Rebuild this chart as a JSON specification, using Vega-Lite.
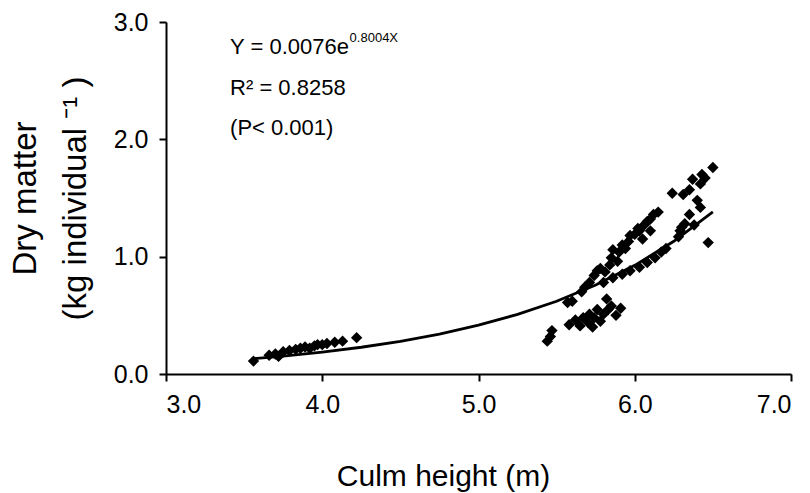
{
  "$schema": "https://vega.github.io/schema/vega-lite/v6.json",
  "autosize": {"type": "none"},
  "width": 625,
  "height": 352,
  "padding": {"left": 166, "top": 22, "right": 19, "bottom": 119},
  "background": "white",
  "config": {
    "view": {"stroke": null},
    "font": "Liberation Sans",
    "axis": {
      "grid": false,
      "domainColor": "black",
      "domainWidth": 2,
      "tickColor": "black",
      "tickWidth": 2,
      "tickSize": 7,
      "labelColor": "black",
      "labelFont": "Liberation Sans",
      "labelFontSize": 25,
      "titleColor": "black",
      "titleFont": "Liberation Sans",
      "titleFontWeight": "normal"
    }
  },
  "datasets": {
    "points": [
      {"h": 3.56, "dm": 0.11}, {"h": 3.66, "dm": 0.16}, {"h": 3.70, "dm": 0.17}, {"h": 3.72, "dm": 0.15},
      {"h": 3.75, "dm": 0.19}, {"h": 3.79, "dm": 0.20}, {"h": 3.83, "dm": 0.21}, {"h": 3.86, "dm": 0.22},
      {"h": 3.89, "dm": 0.23}, {"h": 3.92, "dm": 0.22}, {"h": 3.95, "dm": 0.24}, {"h": 3.97, "dm": 0.25},
      {"h": 4.00, "dm": 0.25}, {"h": 4.03, "dm": 0.26}, {"h": 4.08, "dm": 0.27}, {"h": 4.13, "dm": 0.28},
      {"h": 4.22, "dm": 0.31},
      {"h": 5.44, "dm": 0.28}, {"h": 5.46, "dm": 0.32}, {"h": 5.47, "dm": 0.37}, {"h": 5.57, "dm": 0.61},
      {"h": 5.58, "dm": 0.42}, {"h": 5.62, "dm": 0.46}, {"h": 5.65, "dm": 0.41}, {"h": 5.67, "dm": 0.48},
      {"h": 5.70, "dm": 0.44}, {"h": 5.71, "dm": 0.51}, {"h": 5.73, "dm": 0.40}, {"h": 5.74, "dm": 0.48},
      {"h": 5.76, "dm": 0.55}, {"h": 5.78, "dm": 0.45}, {"h": 5.80, "dm": 0.51}, {"h": 5.82, "dm": 0.64},
      {"h": 5.83, "dm": 0.55}, {"h": 5.85, "dm": 0.58}, {"h": 5.88, "dm": 0.50}, {"h": 5.91, "dm": 0.56},
      {"h": 5.60, "dm": 0.62},
      {"h": 5.66, "dm": 0.70}, {"h": 5.68, "dm": 0.74}, {"h": 5.71, "dm": 0.78}, {"h": 5.74, "dm": 0.84},
      {"h": 5.76, "dm": 0.88}, {"h": 5.78, "dm": 0.90}, {"h": 5.81, "dm": 0.87}, {"h": 5.84, "dm": 0.93},
      {"h": 5.85, "dm": 0.99}, {"h": 5.86, "dm": 1.06}, {"h": 5.89, "dm": 0.96}, {"h": 5.90, "dm": 1.04},
      {"h": 5.92, "dm": 1.10}, {"h": 5.94, "dm": 1.07}, {"h": 5.96, "dm": 1.13}, {"h": 5.97, "dm": 1.18},
      {"h": 6.00, "dm": 1.19}, {"h": 6.02, "dm": 1.24}, {"h": 6.03, "dm": 1.22}, {"h": 6.06, "dm": 1.27},
      {"h": 6.08, "dm": 1.30}, {"h": 6.10, "dm": 1.32}, {"h": 6.12, "dm": 1.36}, {"h": 6.15, "dm": 1.38},
      {"h": 6.10, "dm": 1.22}, {"h": 6.05, "dm": 1.15},
      {"h": 5.80, "dm": 0.78}, {"h": 5.86, "dm": 0.82}, {"h": 5.92, "dm": 0.85}, {"h": 5.97, "dm": 0.88},
      {"h": 6.03, "dm": 0.91}, {"h": 6.08, "dm": 0.95}, {"h": 6.13, "dm": 0.99}, {"h": 6.17, "dm": 1.04},
      {"h": 6.20, "dm": 1.07},
      {"h": 6.24, "dm": 1.54}, {"h": 6.28, "dm": 1.17}, {"h": 6.29, "dm": 1.22}, {"h": 6.31, "dm": 1.53},
      {"h": 6.32, "dm": 1.28}, {"h": 6.35, "dm": 1.36}, {"h": 6.35, "dm": 1.57}, {"h": 6.37, "dm": 1.66},
      {"h": 6.40, "dm": 1.48}, {"h": 6.42, "dm": 1.62}, {"h": 6.42, "dm": 1.42}, {"h": 6.43, "dm": 1.70},
      {"h": 6.45, "dm": 1.67}, {"h": 6.47, "dm": 1.12}, {"h": 6.50, "dm": 1.76}, {"h": 6.38, "dm": 1.27},
      {"h": 6.30, "dm": 1.25}
    ],
    "fit": [
      {"h": 3.55, "dm": 0.130}, {"h": 3.75, "dm": 0.153}, {"h": 4.0, "dm": 0.187}, {"h": 4.25, "dm": 0.228},
      {"h": 4.5, "dm": 0.279}, {"h": 4.75, "dm": 0.340}, {"h": 5.0, "dm": 0.416}, {"h": 5.25, "dm": 0.508},
      {"h": 5.5, "dm": 0.620}, {"h": 5.75, "dm": 0.758}, {"h": 6.0, "dm": 0.926}, {"h": 6.25, "dm": 1.131},
      {"h": 6.5, "dm": 1.381}
    ],
    "notes": [
      {"h": 3.41, "dm": 2.79, "label": "Y = 0.0076e"},
      {"h": 3.41, "dm": 2.44, "label": "R² = 0.8258"},
      {"h": 3.41, "dm": 2.10, "label": "(P< 0.001)"}
    ],
    "sup": [
      {"h": 4.175, "dm": 2.865, "label": "0.8004X"}
    ]
  },
  "layer": [
    {
      "data": {"name": "fit"},
      "mark": {"type": "line", "color": "black", "strokeWidth": 2.8},
      "encoding": {
        "x": {
          "field": "h", "type": "quantitative",
          "scale": {"domain": [3, 7], "nice": false, "zero": false},
          "axis": {
            "values": [3, 4, 5, 6, 7], "format": ".1f", "labelPadding": 11,
            "title": "Culm height (m)", "titleFontSize": 30,
            "titleX": 277, "titleY": 111, "titleAlign": "center", "titleBaseline": "alphabetic"
          }
        },
        "y": {
          "field": "dm", "type": "quantitative",
          "scale": {"domain": [0, 3], "nice": false},
          "axis": {
            "values": [0, 1, 2, 3], "format": ".1f", "labelPadding": 11,
            "title": ["Dry matter", "(kg individual ⁻¹ )"], "titleFontSize": 33,
            "titleX": -141, "titleY": 176, "titleAngle": -90,
            "titleAlign": "center", "titleBaseline": "middle", "titleLineHeight": 50
          }
        }
      }
    },
    {
      "data": {"name": "points"},
      "mark": {"type": "point", "shape": "diamond", "filled": true, "color": "black", "opacity": 1, "size": 130},
      "encoding": {
        "x": {"field": "h", "type": "quantitative"},
        "y": {"field": "dm", "type": "quantitative"}
      }
    },
    {
      "data": {"name": "notes"},
      "mark": {"type": "text", "align": "left", "baseline": "middle", "fontSize": 22, "color": "black", "font": "Liberation Sans"},
      "encoding": {
        "x": {"field": "h", "type": "quantitative"},
        "y": {"field": "dm", "type": "quantitative"},
        "text": {"field": "label"}
      }
    },
    {
      "data": {"name": "sup"},
      "mark": {"type": "text", "align": "left", "baseline": "middle", "fontSize": 13, "color": "black", "font": "Liberation Sans"},
      "encoding": {
        "x": {"field": "h", "type": "quantitative"},
        "y": {"field": "dm", "type": "quantitative"},
        "text": {"field": "label"}
      }
    }
  ]
}
